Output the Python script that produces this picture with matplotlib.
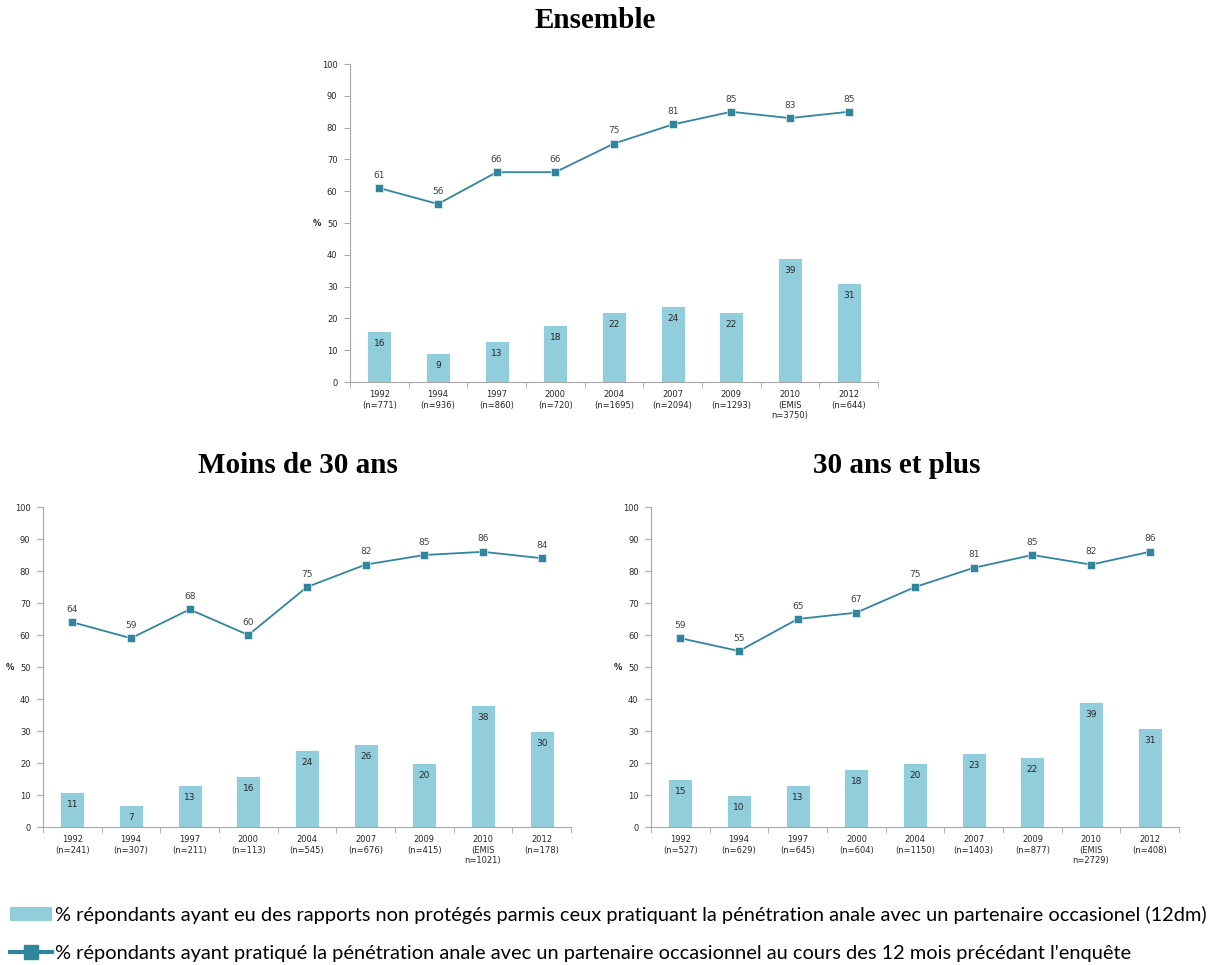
import numpy as np
import matplotlib.pyplot as plt
from matplotlib.patches import Patch
from matplotlib.lines import Line2D

years = ['1992', '1994', '1997', '2000', '2004', '2007', '2009', '2010', '2012']

# Ensemble
n_all = ['(n=771)', '(n=936)', '(n=860)', '(n=720)', '(n=1695)', '(n=2094)', '(n=1293)', '(EMIS\nn=3750)', '(n=644)']
bars_all = [16, 9, 13, 18, 22, 24, 22, 39, 31]
line_all = [61, 56, 66, 66, 75, 81, 85, 83, 85]

# Moins de 30 ans
n_young = ['(n=241)', '(n=307)', '(n=211)', '(n=113)', '(n=545)', '(n=676)', '(n=415)', '(EMIS\nn=1021)', '(n=178)']
bars_young = [11, 7, 13, 16, 24, 26, 20, 38, 30]
line_young = [64, 59, 68, 60, 75, 82, 85, 86, 84]

# 30 ans et plus
n_old = ['(n=527)', '(n=629)', '(n=645)', '(n=604)', '(n=1150)', '(n=1403)', '(n=877)', '(EMIS\nn=2729)', '(n=408)']
bars_old = [15, 10, 13, 18, 20, 23, 22, 39, 31]
line_old = [59, 55, 65, 67, 75, 81, 85, 82, 86]

legend_bar = "% répondants ayant eu des rapports non protégés parmis ceux pratiquant la pénétration anale avec un partenaire occasionel (12dm)"
legend_line = "% répondants ayant pratiqué la pénétration anale avec un partenaire occasionnel au cours des 12 mois précédant l'enquête"

bar_color = '#92CDDC'
line_color = '#31859C'
txt_color = '#404040'
axis_color = '#A6A6A6'

plt.rcParams['font.family'] = ['DejaVu Sans']

fig = plt.figure(figsize=(12.24, 9.65), dpi=100)


def draw(ax, ns, bars, line):
    x = np.arange(len(years))
    ax.bar(x, bars, width=0.41, color=bar_color, edgecolor='white', linewidth=0.6, zorder=2)
    for xi, v in zip(x, bars):
        ax.text(xi, v - 2.5, str(v), ha='center', va='top', fontsize=6.5, color='#262626', zorder=4)
    ax.plot(x, line, color=line_color, linewidth=1.3, marker='s', markersize=5.5,
            markerfacecolor=line_color, markeredgecolor='white', markeredgewidth=0.4, zorder=3)
    for xi, v in zip(x, line):
        ax.text(xi, v + 2.6, str(v), ha='center', va='bottom', fontsize=6.5, color=txt_color, zorder=4)
    ax.set_xlim(-0.5, len(years) - 0.5)
    ax.set_ylim(0, 100)
    ax.set_yticks(range(0, 101, 10))
    ax.set_xticks(x)
    ax.set_xticklabels([y + '\n' + n for y, n in zip(years, ns)], fontsize=6, color='#262626', va='top')
    ax.set_xticks(np.arange(-0.5, len(years)), minor=True)
    ax.tick_params(axis='x', which='major', length=0, pad=6)
    ax.tick_params(axis='x', which='minor', length=4, color=axis_color, direction='out')
    ax.tick_params(axis='y', labelsize=6, labelcolor='#262626', length=4, color=axis_color, pad=5)
    for s in ['top', 'right']:
        ax.spines[s].set_visible(False)
    ax.spines['left'].set_color(axis_color)
    ax.spines['bottom'].set_color(axis_color)
    ax.text(-0.062, 0.5, '%', transform=ax.transAxes, fontsize=6, fontweight='bold',
            ha='center', va='center', color='#262626')


ax1 = fig.add_axes([0.2859, 0.6041, 0.4314, 0.3295])
draw(ax1, n_all, bars_all, line_all)
ax2 = fig.add_axes([0.0351, 0.1430, 0.4314, 0.3316])
draw(ax2, n_young, bars_young, line_young)
ax3 = fig.add_axes([0.5319, 0.1430, 0.4314, 0.3316])
draw(ax3, n_old, bars_old, line_old)

title_kw = dict(fontsize=21, fontweight='bold', family='Liberation Serif', ha='center', va='center', color='black')
fig.text(0.486, 0.979, 'Ensemble', **title_kw)
fig.text(0.2435, 0.518, 'Moins de 30 ans', **title_kw)
fig.text(0.733, 0.518, '30 ans et plus', **title_kw)

handles = [Patch(facecolor=bar_color, edgecolor='none'),
           Line2D([0], [0], color=line_color, linewidth=3, marker='s', markersize=10,
                  markerfacecolor=line_color, markeredgecolor=line_color)]
fig.legend(handles, [legend_bar, legend_line], loc='upper left', bbox_to_anchor=(0.008, 0.061),
           frameon=False, prop={'family': 'Lato', 'size': 14.4}, handlelength=2.1,
           handletextpad=0.15, labelspacing=1.05, borderaxespad=0, borderpad=0)

fig.savefig('out.png', dpi=100)
